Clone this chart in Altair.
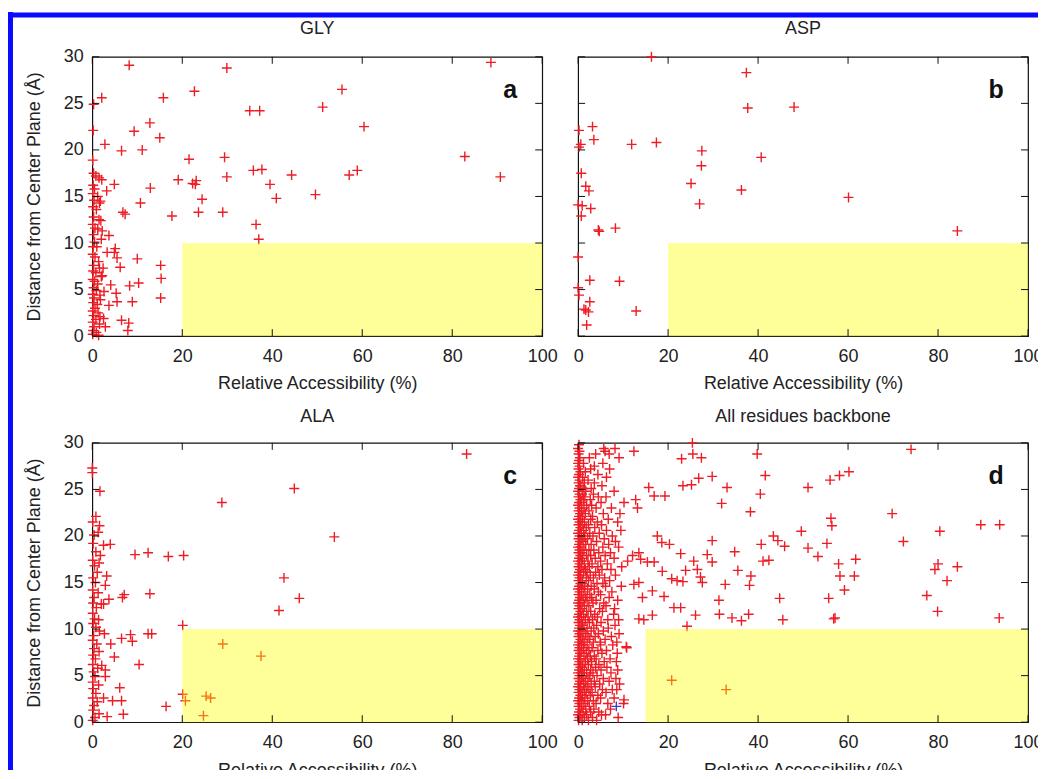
import altair as alt
import pandas as pd

# ---------------- data ----------------
X_TICKS = [0, 20, 40, 60, 80, 100]
Y_TICKS = [0, 5, 10, 15, 20, 25, 30]

PANEL_TITLES = ["GLY", "ASP", "ALA", "All residues backbone"]
PANEL_LETTERS = ["a", "b", "c", "d"]
ZONE_X_START = [20, 20, 20, 15]   # yellow zone: x from start to 100
ZONE_X_END = [100, 100, 100, 100]
ZONE_Y = [0, 10]

gly = [
    (8.2, 29.1), (29.9, 28.8), (88.6, 29.4), (90.7, 17.1), (82.8, 19.3), (55.5, 26.5),
    (51.2, 24.6), (60.4, 22.5), (35.0, 24.2), (37.2, 24.2), (22.7, 26.3), (15.8, 25.6),
    (12.8, 22.9), (9.3, 22.0), (15.0, 21.3), (11.1, 20.0), (6.5, 19.9), (2.8, 20.6),
    (2.1, 25.6), (0.3, 24.9), (0.2, 22.1), (21.5, 19.0), (29.4, 19.2), (19.1, 16.8),
    (22.3, 16.4), (23.1, 16.7), (22.9, 16.3), (29.9, 17.1), (24.4, 14.7), (23.6, 13.3),
    (29.0, 13.3), (17.7, 12.9), (35.8, 17.8), (37.7, 17.9), (39.5, 16.3), (40.9, 14.8),
    (44.3, 17.3), (49.6, 15.2), (57.1, 17.3), (58.9, 17.8), (36.4, 12.0), (37.0, 10.4),
    (12.9, 15.9), (10.7, 14.3), (6.8, 13.3), (7.3, 13.1), (4.9, 16.3), (3.2, 15.6),
    (2.1, 16.8), (10.0, 8.3), (6.2, 7.4), (15.2, 7.6), (15.3, 6.2), (15.2, 4.1),
    (10.3, 5.7), (8.3, 5.4), (8.9, 3.7), (8.1, 1.4), (7.9, 0.6), (6.5, 1.7),
    (4.9, 9.0), (3.7, 10.8), (5.1, 9.4), (5.5, 8.4), (3.3, 9.0), (4.1, 5.5),
    (5.3, 4.6), (5.5, 3.7), (3.7, 3.3), (2.5, 1.9), (2.9, 1.0), (1.7, 2.1),
    (1.9, 12.4), (2.2, 11.3), (1.6, 14.3), (2.4, 7.3), (2.0, 6.4), (2.6, 4.8), (1.8, 3.9),
    (0.1, 18.9), (0.3, 17.5), (0.8, 17.2), (1.5, 17.0), (0.2, 16.2), (0.5, 15.8),
    (0.1, 15.3), (1.2, 15.0), (0.4, 14.6), (1.8, 14.5), (0.2, 13.9), (0.9, 13.6),
    (0.3, 12.8), (1.5, 12.5), (0.1, 12.0), (0.6, 11.6), (1.2, 11.5), (0.3, 10.9),
    (2.0, 10.4), (0.5, 10.1), (0.2, 9.6), (1.0, 9.6), (0.1, 8.8), (0.6, 8.5),
    (1.4, 8.0), (0.3, 7.6), (1.6, 7.3), (0.2, 7.0), (0.8, 6.8), (2.2, 6.5),
    (0.1, 6.1), (0.5, 5.9), (1.2, 5.6), (0.3, 5.2), (0.9, 4.9), (0.1, 4.5),
    (1.7, 4.4), (0.4, 4.1), (0.2, 3.6), (1.1, 3.4), (0.6, 3.0), (0.1, 2.7),
    (1.3, 2.5), (0.3, 2.2), (0.8, 1.8), (0.1, 1.5), (1.6, 1.3), (0.4, 1.0),
    (0.2, 0.6), (0.9, 0.4), (0.1, 0.2), (1.4, 0.1),
]

asp = [
    (16.3, 30.0), (37.4, 28.3), (37.7, 24.5), (48.0, 24.6), (3.2, 22.5), (0.2, 22.1),
    (3.5, 21.1), (0.6, 20.6), (0.2, 20.3), (11.9, 20.6), (17.4, 20.8), (27.5, 19.9),
    (27.4, 18.3), (40.7, 19.2), (25.1, 16.4), (27.0, 14.2), (36.3, 15.7), (60.1, 14.9),
    (84.3, 11.3), (0.7, 17.5), (1.7, 16.1), (2.4, 15.6), (2.8, 13.7), (0.7, 12.9),
    (0.9, 14.0), (0.0, 14.1), (4.5, 11.4), (4.7, 11.25), (8.3, 11.6), (0.0, 8.5),
    (2.6, 6.0), (9.2, 5.9), (0.0, 5.2), (0.2, 4.4), (2.6, 3.7), (1.7, 2.8),
    (2.3, 2.6), (1.3, 2.9), (12.9, 2.7), (1.9, 1.2),
]

ala = [
    (83.2, 28.8), (44.9, 25.1), (28.8, 23.6), (53.8, 19.9), (42.6, 15.5), (46.0, 13.3),
    (41.5, 12.0), (20.1, 10.4), (29.0, 8.4), (37.5, 7.1), (20.1, 3.0), (20.7, 2.3),
    (25.3, 2.8), (26.3, 2.6), (24.7, 0.7), (16.4, 1.7), (9.5, 18.0), (12.4, 18.2),
    (16.9, 17.8), (20.3, 17.9), (12.8, 13.8), (7.1, 13.7), (6.7, 13.4), (4.0, 19.1),
    (2.5, 19.0), (0.8, 22.1), (1.6, 21.1), (1.3, 20.4), (1.7, 24.8), (0.0, 27.3),
    (0.0, 26.8), (8.5, 9.4), (8.9, 8.7), (6.5, 9.0), (12.4, 9.5), (13.2, 9.5),
    (10.4, 6.2), (4.9, 7.0), (4.1, 8.4), (6.1, 3.7), (6.5, 2.3), (4.5, 2.3),
    (6.9, 0.85), (3.3, 0.6), (2.5, 2.6), (2.9, 14.7), (3.2, 15.7), (3.7, 13.2),
    (2.5, 12.7), (2.7, 9.5), (2.9, 5.6), (2.9, 4.9), (2.1, 6.1), (1.8, 17.9),
    (1.5, 17.1), (2.0, 12.7),
    (0.1, 21.5), (0.4, 20.1), (0.2, 19.2), (0.8, 18.3), (0.1, 17.4), (0.5, 16.8),
    (1.1, 16.1), (0.2, 15.5), (0.7, 15.0), (0.1, 14.2), (1.3, 13.9), (0.4, 13.4),
    (0.2, 12.8), (0.9, 12.3), (0.1, 11.7), (0.5, 11.1), (1.4, 11.0), (0.2, 10.6),
    (0.8, 10.2), (1.6, 9.8), (0.3, 9.3), (0.1, 8.8), (1.0, 8.4), (0.4, 7.9),
    (1.5, 7.6), (0.2, 7.2), (0.7, 6.8), (0.1, 6.2), (1.2, 5.8), (0.3, 5.4),
    (0.6, 4.9), (0.1, 4.3), (1.4, 4.0), (0.2, 3.6), (0.8, 3.1), (0.1, 2.6),
    (1.1, 2.2), (0.4, 1.8), (0.2, 1.3), (1.5, 0.9), (0.6, 0.5), (0.1, 0.2),
]

backbone_scatter = [
    (74.0, 29.3), (25.4, 30.0), (39.8, 28.8), (23.0, 28.3), (25.5, 28.8), (27.4, 28.4),
    (12.4, 29.1), (41.6, 26.5), (23.3, 25.4), (25.2, 25.5), (26.8, 26.2), (29.8, 26.4),
    (33.1, 25.2), (40.5, 24.5), (31.9, 23.5), (38.3, 22.6), (51.1, 25.2), (56.0, 26.0),
    (58.1, 26.5), (60.2, 26.9), (69.8, 22.4), (89.5, 21.2), (93.7, 21.2), (80.4, 20.5),
    (72.3, 19.4), (56.2, 21.9), (56.4, 21.1), (49.6, 20.5), (43.4, 20.0), (44.4, 19.5),
    (45.9, 18.9), (40.7, 19.1), (29.8, 19.5), (51.1, 18.7), (55.3, 19.2), (53.3, 17.8),
    (61.7, 17.5), (57.9, 17.0), (58.2, 15.7), (61.4, 15.7), (59.2, 14.2), (55.7, 13.3),
    (44.8, 13.3), (45.5, 11.0), (56.8, 11.1), (57.1, 11.2), (80.0, 17.0), (79.3, 16.4),
    (84.3, 16.7), (82.0, 15.2), (77.5, 13.6), (79.9, 11.9), (93.6, 11.2), (34.8, 18.3),
    (35.5, 16.3), (38.4, 15.7), (38.1, 14.7), (41.1, 17.3), (42.4, 17.4), (32.7, 14.8),
    (31.3, 13.1), (31.4, 11.6), (34.2, 11.2), (36.3, 10.9), (37.9, 11.6), (28.7, 18.0),
    (29.8, 17.2), (25.7, 17.3), (23.9, 16.3), (26.5, 16.4), (27.2, 15.6), (27.6, 15.0),
    (22.8, 18.1), (26.1, 11.5), (24.2, 10.3), (21.3, 12.3), (22.8, 12.3), (20.8, 15.4),
    (22.0, 15.2), (23.3, 15.1), (19.1, 13.5), (16.5, 14.1), (14.3, 13.4), (13.5, 11.1),
    (14.6, 11.0), (16.5, 11.5), (18.7, 16.2), (18.6, 19.3), (20.3, 19.1), (17.6, 20.0),
    (19.3, 24.3), (16.9, 24.3), (15.7, 25.2), (12.8, 23.9), (13.2, 23.0), (13.5, 18.2),
    (13.9, 17.5), (15.4, 17.2), (16.9, 17.2), (12.1, 17.9), (12.4, 14.8), (13.5, 15.0),
    (10.7, 8.1), (10.2, 2.4), (20.8, 4.5), (32.9, 3.5),
]

# dense band near x = 0: rows of (y, [x values])
backbone_band = [
    (0.2, [0.1, 0.9, 2.3, 4.1]), (0.5, [0.3, 1.4, 3.2, 8.9]), (0.8, [0.0, 0.6, 1.9, 5.2, 6.1]),
    (1.1, [0.2, 1.1, 2.8, 4.6]), (1.4, [0.4, 1.7, 3.5, 7.2]), (1.7, [0.1, 0.8, 2.5]),
    (2.0, [0.3, 1.3, 4.0, 6.6, 10.1]), (2.3, [0.0, 0.7, 2.1, 3.4]), (2.6, [0.2, 1.5, 5.0, 8.0]),
    (2.9, [0.5, 1.0, 2.7, 4.4]), (3.2, [0.1, 0.9, 1.8, 3.1, 6.2]), (3.5, [0.3, 1.4, 2.4, 5.4, 7.6, 8.6]),
    (3.8, [0.0, 0.6, 2.0, 3.8]), (4.1, [0.2, 1.2, 2.9, 4.8, 9.2]), (4.4, [0.4, 1.6, 3.6, 6.9]),
    (4.7, [0.1, 0.8, 2.2, 5.6, 8.4]), (5.0, [0.3, 1.1, 2.6, 4.2]), (5.3, [0.0, 0.7, 1.9, 3.3, 7.3]),
    (5.6, [0.2, 1.4, 2.8, 5.1, 8.8]), (5.9, [0.5, 1.0, 3.9, 6.4]), (6.2, [0.1, 0.9, 2.3, 4.6]),
    (6.5, [0.3, 1.6, 3.0, 5.8, 8.5]), (6.8, [0.0, 0.6, 2.1, 4.0, 7.1]), (7.1, [0.2, 1.3, 2.7, 3.6]),
    (7.4, [0.4, 1.8, 5.3, 8.7]), (7.7, [0.1, 0.8, 2.4, 4.4, 6.3]), (8.0, [0.3, 1.2, 3.1, 10.8]),
    (8.3, [0.0, 0.7, 2.0, 5.0, 7.7]), (8.6, [0.2, 1.5, 3.4, 4.9, 8.6]), (8.9, [0.5, 1.1, 2.6, 6.0]),
    (9.2, [0.1, 0.9, 2.2, 3.8, 7.4]), (9.5, [0.3, 1.7, 4.5, 9.1]), (9.8, [0.0, 0.6, 2.9, 5.6]),
    (10.1, [0.2, 1.3, 2.0, 3.5, 6.7]), (10.4, [0.4, 1.0, 4.1, 8.2]), (10.7, [0.1, 0.8, 2.5, 5.1]),
    (11.0, [0.3, 1.6, 3.2, 6.6, 9.0]), (11.3, [0.0, 0.7, 2.2, 4.3]), (11.6, [0.2, 1.2, 3.7, 7.9]),
    (11.9, [0.5, 1.9, 2.8, 5.4]), (12.2, [0.1, 0.9, 4.8, 8.1]), (12.5, [0.3, 1.4, 2.4, 6.2]),
    (12.8, [0.0, 0.6, 3.3, 5.7]), (13.1, [0.2, 1.1, 2.0, 4.0, 8.8]), (13.4, [0.4, 1.7, 3.0, 6.9]),
    (13.7, [0.1, 0.8, 2.6, 5.0]), (14.0, [0.3, 1.3, 4.5, 7.5]), (14.3, [0.0, 0.7, 2.1, 3.6]),
    (14.6, [0.2, 1.5, 2.9, 6.1, 9.6]), (14.9, [0.5, 1.0, 4.2, 5.5]), (15.2, [0.1, 0.9, 2.3, 7.0]),
    (15.5, [0.3, 1.8, 3.4, 5.9]), (15.8, [0.0, 0.6, 2.7, 4.7, 8.3]), (16.1, [0.2, 1.2, 2.0, 3.9]),
    (16.4, [0.4, 1.6, 5.3, 7.3]), (16.7, [0.1, 0.8, 2.5, 4.4, 9.7]), (17.0, [0.3, 1.4, 3.1, 6.5]),
    (17.3, [0.0, 0.7, 2.2, 5.0, 11.0]), (17.6, [0.2, 1.0, 3.8, 8.0]), (17.9, [0.5, 1.9, 2.8, 6.0]),
    (18.2, [0.1, 0.9, 4.6, 7.2]), (18.5, [0.3, 1.3, 2.4, 3.5]), (18.8, [0.0, 0.6, 5.5, 9.0]),
    (19.1, [0.2, 1.7, 2.9, 6.8]), (19.4, [0.4, 1.1, 4.1, 8.3]), (19.7, [0.1, 0.8, 2.1, 5.8]),
    (20.0, [0.3, 1.5, 3.3, 7.6]), (20.3, [0.0, 0.7, 2.6, 4.7]), (20.6, [0.2, 1.2, 6.3, 9.5]),
    (20.9, [0.5, 1.8, 3.7]), (21.2, [0.1, 0.9, 2.3, 5.2]), (21.5, [0.3, 1.4, 4.3, 8.8]),
    (21.8, [0.0, 0.6, 2.8, 6.7]), (22.1, [0.2, 1.0, 3.2]), (22.4, [0.4, 1.6, 5.6, 9.3]),
    (22.7, [0.1, 0.8, 2.4]), (23.0, [0.3, 1.3, 4.0, 7.4]), (23.3, [0.0, 1.9, 3.0]),
    (23.6, [0.2, 0.7, 5.1, 10.2]), (23.9, [0.5, 1.2, 2.7]), (24.2, [0.1, 1.5, 4.5, 6.2]),
    (24.5, [0.3, 0.9, 3.4]), (24.8, [0.0, 1.7, 8.0]), (25.1, [0.2, 1.1, 2.9]),
    (25.4, [0.4, 0.6, 5.3]), (25.7, [0.1, 1.4, 3.6]), (26.0, [0.3, 2.2]),
    (26.3, [0.0, 1.0, 6.3]), (26.6, [0.2, 4.4]), (26.9, [0.5, 1.6]),
    (27.2, [0.1, 2.8, 7.0]), (27.5, [0.3, 3.6]), (27.8, [0.0, 1.2, 5.5]),
    (28.1, [0.2]), (28.4, [0.4, 2.5, 9.1]), (28.8, [0.1, 3.9, 6.9]),
    (29.1, [0.3, 6.0]), (29.4, [0.0, 5.7, 8.2]), (29.8, [0.2]),
]
backbone_blue = [(8.5, 1.7)]

# ---------------- styling ----------------
RED = "#ee1c24"
BLUE = "#3344cc"
FRAME = "#111111"
TEXT = "#222222"
FONT = "Liberation Sans"
W, H = 451, 280
TICK = 7
PLUS = "M-1,0H1M0,-1V1"
BORDER_BLUE = "#0a0aff"
TITLE_DY = [-28, -28, -26, -26]


def make_panel(idx, pts, blue_pts, show_y, border=False):
    rows = [{"x": x, "y": y, "c": RED} for x, y in pts]
    rows += [{"x": x, "y": y, "c": BLUE} for x, y in blue_pts]
    df = pd.DataFrame(rows)

    xs = alt.Scale(domain=[0, 100], nice=False, zero=False)
    ys = alt.Scale(domain=[0, 30], nice=False, zero=False)

    xaxis = alt.Axis(values=X_TICKS, title="Relative Accessibility (%)", ticks=False,
                     domain=False, grid=False, labelPadding=11, titlePadding=10,
                     labelFontSize=18, titleFontSize=18, labelFont=FONT, titleFont=FONT,
                     labelColor=TEXT, titleColor=TEXT, titleFontWeight="normal",
                     labelFlush=False, labelOverlap=False)
    if show_y:
        yaxis = alt.Axis(values=Y_TICKS, title="Distance from Center Plane (Å)", ticks=False,
                         domain=False, grid=False, labelPadding=9, titlePadding=20,
                         labelFontSize=18, titleFontSize=18, labelFont=FONT, titleFont=FONT,
                         labelColor=TEXT, titleColor=TEXT, titleFontWeight="normal",
                         labelFlush=False, labelOverlap=False)
    else:
        yaxis = None

    def X(field):
        return alt.X(field, scale=xs, axis=xaxis)

    def Y(field):
        return alt.Y(field, scale=ys, axis=yaxis)

    points = alt.Chart(df).mark_point(shape=PLUS, filled=False, size=100, strokeWidth=1.4,
                                      opacity=1).encode(
        x=X("x:Q"), y=Y("y:Q"), color=alt.Color("c:N", scale=None),
    )

    zone_df = pd.DataFrame({"x0": [ZONE_X_START[idx]], "x1": [ZONE_X_END[idx]],
                            "y0": [ZONE_Y[0]], "y1": [ZONE_Y[1]]})
    zone = alt.Chart(zone_df).mark_rect(color="#ffff00", opacity=0.4).encode(
        x=X("x0:Q"), x2="x1", y=Y("y0:Q"), y2="y1",
    )

    xt = pd.DataFrame({"t": X_TICKS})
    yt = pd.DataFrame({"t": Y_TICKS})
    tick_bottom = alt.Chart(xt).mark_rule(color=FRAME, strokeWidth=1).encode(
        x=X("t:Q"), y=alt.value(H), y2=alt.value(H - TICK))
    tick_top = alt.Chart(xt).mark_rule(color=FRAME, strokeWidth=1).encode(
        x=X("t:Q"), y=alt.value(0), y2=alt.value(TICK))
    tick_left = alt.Chart(yt).mark_rule(color=FRAME, strokeWidth=1).encode(
        y=Y("t:Q"), x=alt.value(0), x2=alt.value(TICK))
    tick_right = alt.Chart(yt).mark_rule(color=FRAME, strokeWidth=1).encode(
        y=Y("t:Q"), x=alt.value(W), x2=alt.value(W - TICK))

    letter = alt.Chart(pd.DataFrame({"t": [PANEL_LETTERS[idx]]})).mark_text(
        font=FONT, fontSize=25, fontWeight="bold", color="#111111",
        align="center", baseline="middle").encode(
        text="t:N", x=alt.value(W - 32), y=alt.value(33))

    title = alt.Chart(pd.DataFrame({"t": [PANEL_TITLES[idx]]})).mark_text(
        font=FONT, fontSize=18, color=TEXT, align="center", baseline="middle").encode(
        text="t:N", x=alt.value(W / 2), y=alt.value(TITLE_DY[idx]))

    layers = [points, zone, tick_bottom, tick_top, tick_left, tick_right, letter, title]

    if border:
        # blue frame of the original image (left and top edges)
        one = pd.DataFrame({"k": [0]})
        left_bar = alt.Chart(one).mark_rule(color=BORDER_BLUE, strokeWidth=5, strokeCap="butt").encode(
            x=alt.value(-82), y=alt.value(-45), y2=alt.value(716))
        top_bar = alt.Chart(one).mark_rule(color=BORDER_BLUE, strokeWidth=5, strokeCap="butt").encode(
            y=alt.value(-42), x=alt.value(-84.5), x2=alt.value(954))
        layers += [left_bar, top_bar]

    return alt.layer(*layers).properties(width=W, height=H)


backbone = list(backbone_scatter)
for yy, xs_row in backbone_band:
    for xx in xs_row:
        backbone.append((xx, yy))

pa = make_panel(0, gly, [], True, border=True)
pb = make_panel(1, asp, [], False)
pc = make_panel(2, ala, [], True)
pd_ = make_panel(3, backbone, backbone_blue, False)

chart = alt.concat(pa, pb, pc, pd_, columns=2, spacing={"row": 107, "column": 36},
                   bounds="flush").properties(
    padding={"left": -3.5, "top": -1, "right": -10, "bottom": -11},
    background="white",
).configure_view(stroke=FRAME, strokeWidth=1.2)

chart.save("out.html", embed_options={"renderer": "svg", "actions": False})
